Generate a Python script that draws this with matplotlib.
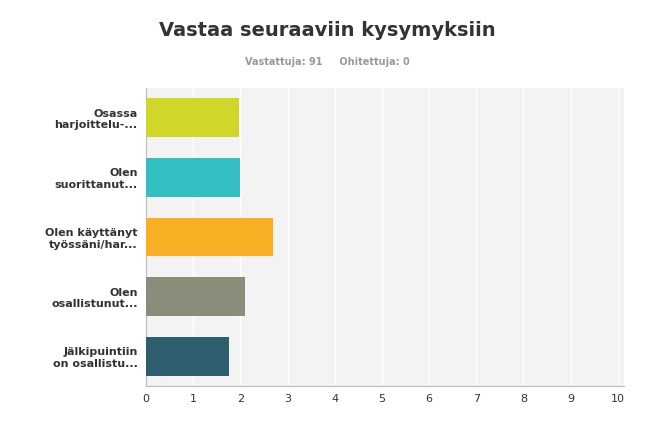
import matplotlib
matplotlib.use("Agg")
import matplotlib.pyplot as plt

categories = ["Osassa\nharjoittelu-...", "Olen\nsuorittanut...", "Olen käyttänyt\ntyössäni/har...",
              "Olen\nosallistunut...", "Jälkipuintiin\non osallistu..."]
values = [1.97, 1.99, 2.69, 2.10, 1.76]
colors = ["#cfd72a", "#33bfc1", "#f7b023", "#8b8c7a", "#2d5f6e"]
ticks = list(range(0, 11))

fig = plt.figure(figsize=(6.58, 4.23), dpi=100)
ax = fig.add_axes([146/658, 1-386/423, (624-146)/658, (386-88)/423])
ax.set_facecolor("#f3f3f3")
y = list(range(len(categories)))
ax.barh(y, values, height=0.65, color=colors, zorder=3)
ax.set_ylim(4.5, -0.5)
ax.set_xlim(0, 10.13)
ax.set_xticks(ticks)
ax.set_xticklabels([str(t) for t in ticks], fontsize=8, color="#333333")
ax.set_yticks(y)
ax.set_yticklabels(categories, fontsize=8, fontweight="bold", color="#333333")
ax.grid(axis="x", color="white", lw=1, zorder=1)
for s in ax.spines.values():
    s.set_visible(False)
ax.spines["bottom"].set_visible(True)
ax.spines["bottom"].set_color("#bbbbbb")
ax.spines["left"].set_visible(True)
ax.spines["left"].set_color("#bbbbbb")
ax.tick_params(length=0, pad=6)
fig.text(0.497, 1-30/423, "Vastaa seuraaviin kysymyksiin", ha="center", va="center",
         fontsize=14, fontweight="bold", color="#333333")
fig.text(0.497, 1-62/423, "Vastattuja: 91     Ohitettuja: 0", ha="center", va="center",
         fontsize=7, fontweight="bold", color="#999999")
fig.savefig("out.png", dpi=100)
